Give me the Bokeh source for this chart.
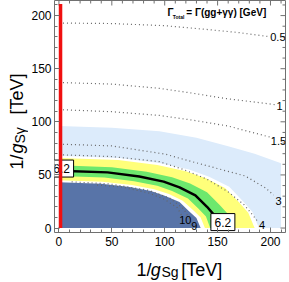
import numpy as np
from bokeh.plotting import figure
from bokeh.layouts import row, column
from bokeh.models import Range1d, FixedTicker, Label
from bokeh.embed import file_html
from bokeh.resources import INLINE
from bokeh.core.properties import value

# ---------------- data (TeV) ----------------
# excluded region (dark blue), boundary
db_x = [0, 40, 67, 87, 100, 114, 123, 130, 134]
db_y = [43, 41.7, 38.7, 34.8, 30.5, 24.5, 15.9, 9.5, 0]
# 2-sigma band (yellow) inner / outer boundaries
yin_x = [0, 41, 69, 90, 104, 117, 127, 134, 138]
yin_y = [45, 43.6, 40.5, 36.5, 32, 25.7, 16.7, 9.9, 0]
yout_x = [0, 56, 93, 120, 139, 157, 170, 179, 185]
yout_y = [66, 64, 59.4, 53.5, 46.9, 37.6, 24.4, 14.5, 0]
# 1-sigma band (green)
gin_x = [0, 43, 71, 93, 107, 122, 132, 139, 143]
gin_y = [49, 47.5, 44.1, 39.7, 34.8, 27.9, 18.1, 10.8, 0]
gout_x = [0, 50, 83, 107, 124, 140, 152, 160, 165]
gout_y = [59, 57.2, 53.1, 47.8, 41.9, 33.6, 21.8, 13, 0]
# central value curve (6.2)
blk_x = [0, 46, 76, 99, 114, 129, 140, 147, 152]
blk_y = [54, 52.4, 48.6, 43.7, 38.3, 30.8, 20, 11.9, 0]
# light-blue region
lbin_x = [0, 57, 95, 123, 142, 161, 174, 183, 189]
lbin_y = [68, 66, 61.2, 55.1, 48.3, 38.8, 25.2, 15, 0]
lbout_x = [0, 50, 95, 130, 160, 185, 210, 210]
lbout_y = [96, 94.5, 91, 85, 77, 70, 61, 0]
# Gamma_total contours [GeV]
g05_x = [0, 50, 100, 139, 170, 200]
g05_y = [193, 192.5, 190.5, 187, 184, 180]
g1_x = [0, 50, 95, 126, 157, 198, 205]
g1_y = [137, 135.5, 131.5, 127, 122, 117, 116]
g15_x = [0, 50, 95, 130, 160, 198, 203]
g15_y = [111.5, 109.5, 106, 101, 96, 86, 85]
g3_x = [0, 50, 101, 113, 124, 150, 176, 195, 203]
g3_y = [79, 77.3, 69.5, 66, 63, 56, 49, 38, 31]
g4_x = [0, 50, 95, 118, 140, 160, 175, 185, 188]
g4_y = [69, 67.3, 62.5, 55, 46, 34, 22, 10, 6]
g9_x = [12, 48, 85, 105, 118, 125]
g9_y = [43.5, 41.5, 35.5, 28, 18, 6]
g10_x = [36, 60, 85, 100, 112, 116]
g10_y = [40.5, 38.5, 33, 27, 19, 12]
contour_labels = ["0.5", "1", "1.5", "3", "4", "10", "9"]
central_label = "6.2"
# vertical red bound
red_x = [1.5, 1.5]
red_y = [0, 211]

x_ticks = [0, 50, 100, 150, 200]
minor = [10, 20, 30, 40, 60, 70, 80, 90, 110, 120, 130, 140, 160, 170, 180, 190, 210]

# ---------------- main figure ----------------
FONT = "Liberation Sans"
FRAME = "#707070"
LO, HI = -4.2, 214.2

p = figure(width=259, height=252, x_range=Range1d(LO, HI), y_range=Range1d(LO, HI),
           output_backend="svg", toolbar_location=None,
           min_border_left=24, min_border_right=2, min_border_top=0, min_border_bottom=20)
p.grid.visible = False
p.outline_line_color = FRAME
p.outline_line_width = 1
p.background_fill_color = "white"
p.border_fill_color = "white"

ticker = FixedTicker(ticks=x_ticks, minor_ticks=minor)
for ax in [p.xaxis[0], p.yaxis[0]]:
    ax.ticker = ticker
    ax.axis_line_color = None
    ax.major_tick_in = 5
    ax.major_tick_out = 0
    ax.minor_tick_in = 3
    ax.minor_tick_out = 0
    ax.major_tick_line_color = FRAME
    ax.minor_tick_line_color = FRAME
    ax.major_label_text_font = FONT
    ax.major_label_text_font_size = "12px"
    ax.major_label_text_color = "black"
p.xaxis.major_label_standoff = 4
p.yaxis.major_label_standoff = 3

# ---------------- regions ----------------
p.patch(lbout_x + lbin_x[::-1], lbout_y + lbin_y[::-1], fill_color="#dcebfb", line_color=None)
p.patch(yout_x + yin_x[::-1], yout_y + yin_y[::-1], fill_color="#ffff7a", line_color=None)
p.patch(gout_x + gin_x[::-1], gout_y + gin_y[::-1], fill_color="#6de86d", line_color=None)
p.patch(db_x + [0], db_y + [0], fill_color="#5874a8", line_color=None)

# frame ticks on the top and right sides (mirrors of the axes' ticks)
p.ray(x=x_ticks, y=[HI] * len(x_ticks), length=5, length_units="screen",
      angle=-np.pi / 2, line_color=FRAME, line_width=1)
p.ray(x=minor, y=[HI] * len(minor), length=3, length_units="screen",
      angle=-np.pi / 2, line_color=FRAME, line_width=1)
p.ray(x=[HI] * len(x_ticks), y=x_ticks, length=5, length_units="screen",
      angle=np.pi, line_color=FRAME, line_width=1)
p.ray(x=[HI] * len(minor), y=minor, length=3, length_units="screen",
      angle=np.pi, line_color=FRAME, line_width=1)

# ---------------- Gamma contours ----------------
for cx, cy in [(g05_x, g05_y), (g1_x, g1_y), (g15_x, g15_y), (g3_x, g3_y),
               (g4_x, g4_y), (g9_x, g9_y), (g10_x, g10_y)]:
    p.line(cx, cy, line_color="#666666", line_width=1.2, line_dash="1 3")

p.line(blk_x, blk_y, line_color="black", line_width=2.5)

lab_x = [207, 208.6, 207.5, 207.6, 192, 119.5, 128]
lab_y = [179.8, 115.3, 82.4, 25.9, 3.3, 8, 1.9]
p.text(lab_x, lab_y, text=contour_labels, text_font=value(FONT), text_font_size="11px",
       text_align="center", text_baseline="middle", text_color="black")

box_x = [2.5, 155]
box_y = [56, 5.6]
p.rect(box_x, box_y, width=24, height=17, width_units="screen", height_units="screen",
       fill_color="white", line_color="black", line_width=1)
p.text(box_x, box_y, text=[central_label, central_label], text_font=value(FONT),
       text_font_size="12px", text_align="center", text_baseline="middle", text_color="black")

p.line(red_x, red_y, line_color="#f01010", line_width=3.5)

# ---------------- title text ----------------
p.add_layout(Label(x=102.6, y=197.7, text="Γ", text_font=FONT, text_font_size="10px",
                   text_font_style="bold", text_color="black"))
p.add_layout(Label(x=107.6, y=196.0, text="Total", text_font=FONT, text_font_size="5px",
                   text_font_style="bold", text_color="black"))
p.add_layout(Label(x=120.4, y=197.7, text="= Γ(gg+γγ) [GeV]", text_font=FONT,
                   text_font_size="10px", text_font_style="bold", text_color="black"))


# ---------------- axis titles: two small text panels (pixel coordinates) ----------------
def panel(w, h):
    f = figure(width=w, height=h, x_range=Range1d(0, w), y_range=Range1d(0, h),
               output_backend="svg", toolbar_location=None,
               x_axis_location=None, y_axis_location=None, min_border=0)
    f.grid.visible = False
    f.outline_line_color = None
    f.background_fill_color = "white"
    f.border_fill_color = "white"
    return f


def txt(f, x, y, t, size, style="normal", angle=0.0):
    f.text([x], [y], text=[t], text_font=value(FONT), text_font_size=size,
           text_font_style=style, text_color="black", angle=angle,
           text_align="left", text_baseline="alphabetic")


ylab = panel(28, 280)
txt(ylab, 16, 111, "1/", "18px", angle=np.pi / 2)
txt(ylab, 16, 127, "g", "18px", "italic", angle=np.pi / 2)
txt(ylab, 19.5, 137, "Sγ", "14px", angle=np.pi / 2)
txt(ylab, 16, 166, "[TeV]", "18px", angle=np.pi / 2)

xlab = panel(259, 28)
txt(xlab, 92, 11, "1/", "18px")
txt(xlab, 108, 11, "g", "18px", "italic")
txt(xlab, 120, 8.5, "Sg", "14px")
txt(xlab, 142, 11, "[TeV]", "18px")

layout = row(ylab, column(p, xlab, spacing=0), spacing=0)

open("out.html", "w").write(file_html(layout, INLINE))
